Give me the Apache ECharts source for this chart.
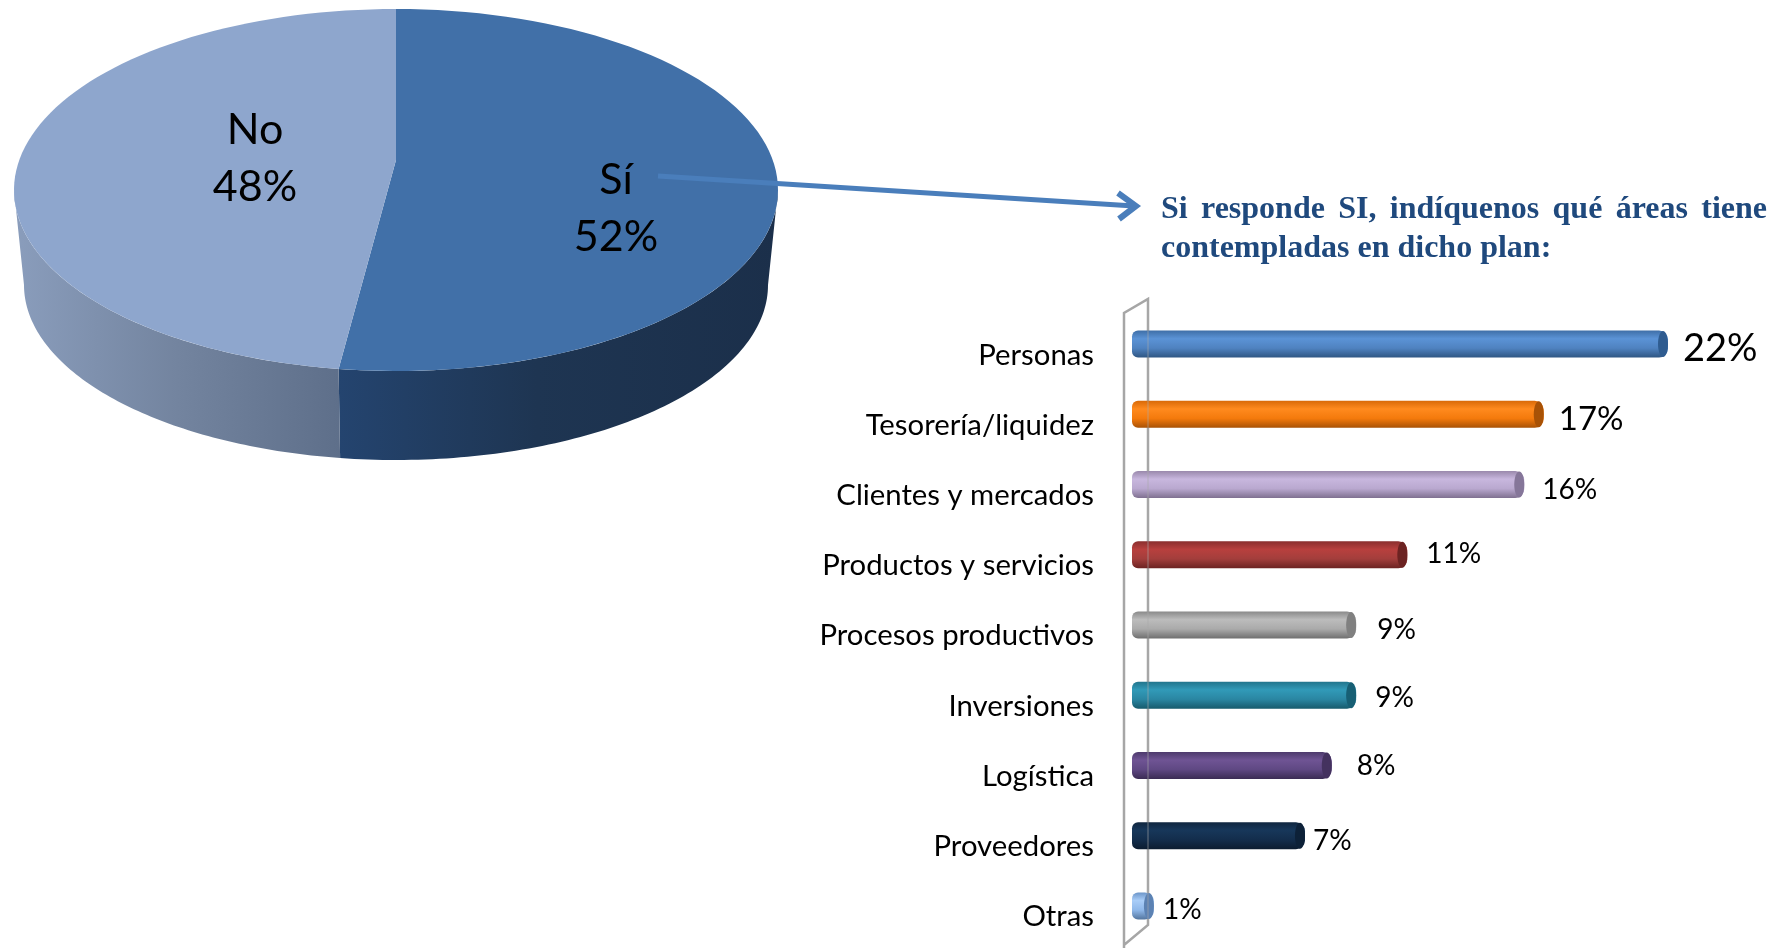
<!DOCTYPE html>
<html><head><meta charset="utf-8">
<style>html,body{margin:0;padding:0;background:#fff}#c{width:1785px;height:948px}</style>
<script src="https://cdn.jsdelivr.net/npm/echarts@6/dist/echarts.min.js"></script>
</head><body><div id="c"></div>
<script>
const pieNames = ['Sí', 'No'];
const pieValues = [52.4, 47.6];
const barCategories = ['Personas','Tesorería/liquidez','Clientes y mercados','Productos y servicios','Procesos productivos','Inversiones','Logística','Proveedores','Otras'];
const barValues = [22, 16.9, 16.1, 11.3, 9.2, 9.2, 8.2, 7.1, 0.9];
const barLabels = ['22%','17%','16%','11%','9%','9%','8%','7%','1%'];
const chartTitle = 'Si \u2006responde \u2006SI, \u2006indíquenos \u2006qué \u2006áreas \u2006tiene\ncontempladas en dicho plan:';

const barColors = [
 ['#3f6fa8','#5b93d6','#4f82c0','#2f5682'],
 ['#d96a08','#ff8a1e','#f47a0c','#a85206'],
 ['#9a89ac','#c8b7de','#b9a8cf','#7f7090'],
 ['#8a2f2e','#b8403e','#a33e3c','#6c2322'],
 ['#8a8a8a','#bcbcbc','#aaaaaa','#6f6f6f'],
 ['#22758c','#319ab8','#2a86a2','#175a6c'],
 ['#4d3a6c','#6f5494','#5f4883','#3b2c54'],
 ['#10263f','#17375a','#132d4c','#0c1c30'],
 ['#6c95c8','#a9cdf8','#8fb8ea','#54769f']
];
const capColors = ['#2f5c90','#a85206','#857699','#6c2322','#808080','#175f74','#44325f','#0d2138','#5c82b3'];
const labelStyles = [
 {fontSize:38,dx:10,dy:5},{fontSize:33,dx:10,dy:5},{fontSize:28,dx:13,dy:5},{fontSize:28,dx:14,dy:-1},
 {fontSize:28,dx:16,dy:5},{fontSize:28,dx:14,dy:3},{fontSize:28,dx:20,dy:1},{fontSize:28,dx:3,dy:5},{fontSize:28,dx:4,dy:4}
];

function grad(c){return {type:'linear',x:0,y:0,x2:0,y2:1,colorStops:[
 {offset:0,color:c[0]},{offset:.3,color:c[1]},{offset:.65,color:c[2]},{offset:1,color:c[3]}]};}

// pie geometry (a tilted, thick pie)
const P={cx:396,cy:190,rx:382,ry:181,ax:396,ay:160,bcx:396,bcy:285,brx:372,bry:175};
const total=pieValues.reduce((a,b)=>a+b,0);
function ept(e,t){return [e[0]+e[2]*Math.sin(t),e[1]-e[3]*Math.cos(t)];}
function arc(e,a,b){const n=90,o=[];for(let i=0;i<=n;i++){o.push(ept(e,a+(b-a)*i/n));}return o;}
const TOP=[P.cx,P.cy,P.rx,P.ry],BOT=[P.bcx,P.bcy,P.brx,P.bry];
const wallFills=[
 {type:'linear',x:0,y:0,x2:1,y2:0,colorStops:[{offset:0,color:'#24446f'},{offset:.45,color:'#1e3552'},{offset:1,color:'#1b2f4a'}]},
 {type:'linear',x:0,y:0,x2:1,y2:0,colorStops:[{offset:0,color:'#8a9dbc'},{offset:.5,color:'#73849f'},{offset:1,color:'#5e6f8a'}]}
];
const topFills=['#4170a8','#8ea6cd'];
const labelPos=[[616,209],[255,159]];
function pieItem(params,api){
  const i=params.dataIndex;
  let before=0;for(let k=0;k<i;k++)before+=pieValues[k];
  const a=before/total*2*Math.PI,b=(before+api.value(1))/total*2*Math.PI;
  const ch=[];
  const wa=Math.max(a,Math.PI/2),wb=Math.min(b,Math.PI*1.5);
  if(wb>wa){ch.push({type:'polygon',shape:{points:arc(TOP,wa,wb).concat(arc(BOT,wb,wa))},style:{fill:wallFills[i]}});}
  ch.push({type:'polygon',shape:{points:[[P.ax,P.ay]].concat(arc(TOP,a,b))},style:{fill:topFills[i]}});
  ch.push({type:'text',z2:5,style:{x:labelPos[i][0],y:labelPos[i][1],text:pieNames[i]+'\n'+Math.round(api.value(1))+'%',align:'center',verticalAlign:'middle',
    font:'43px Lato',lineHeight:57,fill:'#000'}});
  return {type:'group',children:ch};
}

const frame={left:1124,right:1148,top:299,topL:313,bot:925,botL:945};
const framePts=[[frame.left,948],[frame.left,frame.topL],[frame.right,frame.top],[frame.right,frame.bot],[frame.left,frame.botL]];

const option={
 animation:false,backgroundColor:'#fff',
 title:{text:chartTitle,left:1156,top:185,textStyle:{fontFamily:'Liberation Serif',fontWeight:'bold',fontSize:32,lineHeight:39,color:'#1f497d'}},
 grid:{left:1132,top:309,width:536,height:632,containLabel:false},
 xAxis:{type:'value',min:0,max:22,show:false},
 yAxis:{type:'category',inverse:true,data:barCategories,axisLine:{show:false},axisTick:{show:false},splitLine:{show:false},
   axisLabel:{margin:38,fontFamily:'Lato',fontSize:29.3,color:'#000',verticalAlign:'top',lineHeight:22}},
 series:[
  {type:'custom',coordinateSystem:'none',silent:true,z:2,data:pieNames.map((n,i)=>[i,pieValues[i]]),renderItem:pieItem,clip:false},
  {type:'bar',barWidth:27,z:3,silent:true,
   data:barValues.map((v,i)=>({value:v,itemStyle:{color:grad(barColors[i]),borderRadius:[6,9,9,6]},
     label:{show:true,position:'right',formatter:barLabels[i],fontFamily:'Lato',fontSize:labelStyles[i].fontSize,color:'#000',
       offset:[labelStyles[i].dx,labelStyles[i].dy]}}))},
  {type:'custom',z:4,silent:true,clip:false,data:barValues.map((v,i)=>[v,i]),
   renderItem(params,api){
     const p=api.coord([api.value(0),api.value(1)]);
     return {type:'ellipse',shape:{cx:p[0]-5,cy:p[1],rx:5,ry:13},style:{fill:capColors[params.dataIndex]}};
   }}
 ],
 graphic:[
  {type:'polyline',z:1,shape:{points:framePts},style:{stroke:'#a6a6a6',lineWidth:2.5,fill:null},silent:true},
  {type:'line',z:10,shape:{x1:frame.right,y1:frame.top,x2:frame.right,y2:frame.bot},style:{stroke:'rgba(170,170,170,.3)',lineWidth:2},silent:true},
  {type:'line',z:10,shape:{x1:658,y1:176,x2:1134,y2:206},style:{stroke:'#4a7ebb',lineWidth:5},silent:true},
  {type:'polyline',z:10,shape:{points:[[1118,193],[1136,206],[1119,219]]},style:{stroke:'#4a7ebb',lineWidth:6,fill:null},silent:true}
 ]
};
echarts.init(document.getElementById('c'),null,{renderer:'canvas'}).setOption(option);
</script></body></html>
